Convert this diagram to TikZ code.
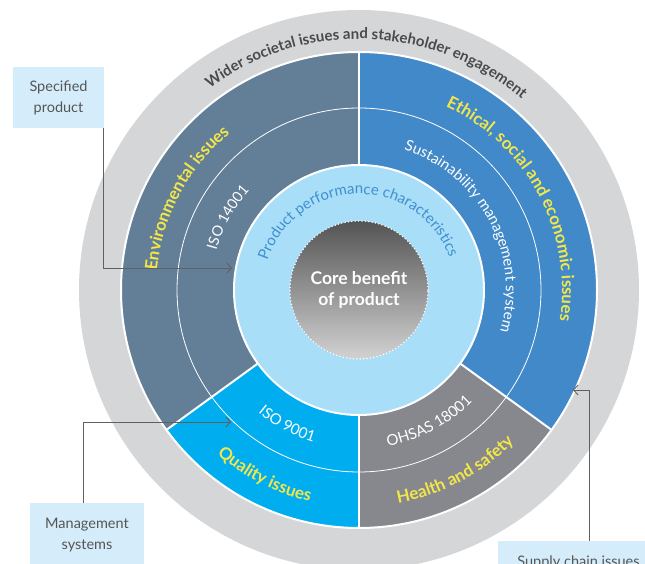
\documentclass[tikz,border=0pt]{standalone}
\usepackage{fontspec}
\setmainfont{Lato}
\usetikzlibrary{calc,arrows.meta,decorations.text}
\definecolor{ringgray}{HTML}{D5D6D8}
\definecolor{envblue}{HTML}{637F97}
\definecolor{ethblue}{HTML}{4189C9}
\definecolor{qualcyan}{HTML}{00AEEF}
\definecolor{healthgray}{HTML}{86888D}
\definecolor{perfblue}{HTML}{A9DEF8}
\definecolor{perftext}{HTML}{3F8FD0}
\definecolor{labelyellow}{HTML}{F2E64B}
\definecolor{calloutfill}{HTML}{D5EDFA}
\definecolor{callouttext}{HTML}{555555}
\definecolor{linkgray}{HTML}{606060}
\definecolor{widertext}{HTML}{4A4A4A}
\definecolor{coretop}{HTML}{545455}
\definecolor{corebottom}{HTML}{D2D2D3}
\tikzset{
  callout/.style={fill=calloutfill, text=callouttext, align=center, inner sep=0pt,
    font=\fontsize{14.5}{21}\selectfont},
  link/.style={draw=linkgray, line width=0.9pt, -{Straight Barb[length=4.5pt,width=10pt]}},
  seg/.style={draw=white, line width=2pt},
}

\begin{document}
\begin{tikzpicture}[x=1pt,y=1pt]
  \useasboundingbox (0,0) rectangle (645,564);
  \coordinate (C) at (359,274);

  % Outer ring
  \fill[ringgray] (C) circle[radius=280];

  % Issue segments
  \fill[envblue] (C) -- ([shift={(90:238)}]C) arc[start angle=90, end angle=216, radius=238] -- cycle;
  \fill[qualcyan] (C) -- ([shift={(216:238)}]C) arc[start angle=216, end angle=270, radius=238] -- cycle;
  \fill[healthgray] (C) -- ([shift={(270:238)}]C) arc[start angle=270, end angle=324, radius=238] -- cycle;
  \fill[ethblue] (C) -- ([shift={(-36:238)}]C) arc[start angle=-36, end angle=90, radius=238] -- cycle;
  \draw[white, line width=0.8pt] (C) circle[radius=182];
  \foreach \a in {90,216,270,324}
    \draw[seg] (C) -- ([shift={(\a:238)}]C);
  \draw[seg] (C) circle[radius=238];

  % Product performance and core
  \node[circle, fill=perfblue, draw=white, line width=2pt, minimum size=250pt] (perf) at (C) {};
  \node[circle, minimum size=138pt, top color=coretop, bottom color=corebottom,
    draw=white, line width=1.6pt, dash pattern=on 0pt off 3.4pt, line cap=round,
    text=white, align=center, font=\fontsize{17.5}{21}\selectfont\bfseries] (core) at (C) {Core benefit\\of product};

  % Curved labels
  \path[decorate, decoration={text along path, text align=center,
    text={|\fontsize{15}{15}\selectfont\bfseries\color{widertext}|Wider societal issues and stakeholder engagement}}]
    ([shift={(173:251)}]C) arc[start angle=173, end angle=3, radius=251];
  \path[decorate, decoration={text along path, text align=center,
    text={|\fontsize{17}{17}\selectfont\bfseries\color{labelyellow}|Ethical, social and economic issues}}]
    ([shift={(113:203)}]C) arc[start angle=113, end angle=-57, radius=203];
  \path[decorate, decoration={text along path, text align=center,
    text={|\fontsize{17}{17}\selectfont\bfseries\color{labelyellow}|Environmental issues}}]
    ([shift={(222:203)}]C) arc[start angle=222, end angle=82, radius=203];
  \path[decorate, decoration={text along path, text align=center,
    text={|\fontsize{17}{17}\selectfont\bfseries\color{labelyellow}|Quality issues}}]
    ([shift={(183:217)}]C) arc[start angle=183, end angle=303, radius=217];
  \path[decorate, decoration={text along path, text align=center,
    text={|\fontsize{17}{17}\selectfont\bfseries\color{labelyellow}|Health and safety}}]
    ([shift={(238:217)}]C) arc[start angle=238, end angle=358, radius=217];
  \path[decorate, decoration={text along path, text align=center,
    text={|\fontsize{14.5}{14.5}\selectfont\color{white}|ISO 14001}}]
    ([shift={(211:148)}]C) arc[start angle=211, end angle=91, radius=148];
  \path[decorate, decoration={text along path, text align=center,
    text={|\fontsize{15}{15}\selectfont\color{white}|Sustainability management system}}]
    ([shift={(118:147)}]C) arc[start angle=118, end angle=-62, radius=147];
  \path[decorate, decoration={text along path, text align=center,
    text={|\fontsize{15}{15}\selectfont\color{white}|ISO 9001}}]
    ([shift={(182:159)}]C) arc[start angle=182, end angle=302, radius=159];
  \path[decorate, decoration={text along path, text align=center,
    text={|\fontsize{15}{15}\selectfont\color{white}|OHSAS 18001}}]
    ([shift={(238:159)}]C) arc[start angle=238, end angle=358, radius=159];
  \path[decorate, decoration={text along path, text align=center,
    text={|\fontsize{15}{15}\selectfont\color{perftext}|Product performance characteristics}}]
    ([shift={(191:96)}]C) arc[start angle=191, end angle=-9, radius=96];

  % Callouts
  \node[callout, minimum width=91pt, minimum height=61pt] (spec) at (58.5,466.5) {Specified\\product};
  \node[callout, minimum width=114pt, minimum height=64pt] (mgmt) at (87,29) {Management\\systems};
  \node[callout, minimum width=161pt, minimum height=42pt] (supply) at (578.5,2) {Supply chain issues};

  % Links
  \coordinate (envtip) at (232,296);
  \coordinate (qualtip) at (231,142);
  \coordinate (ethtip) at (573,174);
  \draw[link] ([xshift=-0.5pt]spec.south east) |- (envtip);
  \draw[link] ([xshift=-4pt]mgmt.north) |- (qualtip);
  \draw[link] ([xshift=10.5pt]supply.north) |- (ethtip);
\end{tikzpicture}
\end{document}
